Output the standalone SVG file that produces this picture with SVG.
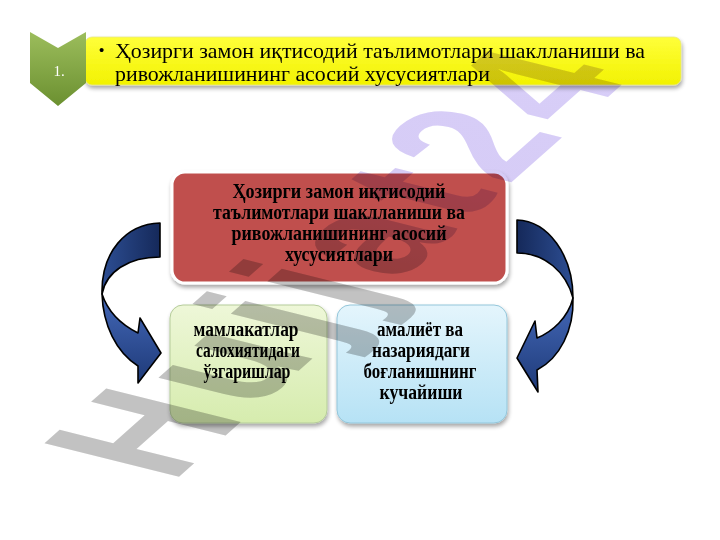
<svg xmlns="http://www.w3.org/2000/svg" width="720" height="540" viewBox="0 0 720 540">
<defs>
<style>
.hdr{font-family:"Liberation Serif","Times New Roman",serif;font-size:21px;fill:#000}
.bx{font-family:"Liberation Serif","Times New Roman",serif;font-weight:bold;font-size:20px;fill:#000;text-anchor:middle}
.arr{stroke:#000;stroke-width:1.6;stroke-linejoin:round}
</style>
<filter id="sh" x="-10%" y="-10%" width="125%" height="135%">
<feGaussianBlur in="SourceAlpha" stdDeviation="2"/>
<feOffset dx="1" dy="3" result="b"/>
<feComponentTransfer><feFuncA type="linear" slope="0.35"/></feComponentTransfer>
<feMerge><feMergeNode/><feMergeNode in="SourceGraphic"/></feMerge>
</filter>
<linearGradient id="gChev" x1="0" y1="0" x2="0" y2="1">
<stop offset="0" stop-color="#9cbd5c"/><stop offset="1" stop-color="#6b9030"/>
</linearGradient>
<linearGradient id="gYel" x1="0" y1="0" x2="0" y2="1">
<stop offset="0" stop-color="#ffff3a"/><stop offset="1" stop-color="#f2f200"/>
</linearGradient>
<linearGradient id="gGrn" x1="0" y1="0" x2="0" y2="1">
<stop offset="0" stop-color="#eef7d8"/><stop offset="1" stop-color="#d6ecae"/>
</linearGradient>
<linearGradient id="gBlu" x1="0" y1="0" x2="0" y2="1">
<stop offset="0" stop-color="#e4f5fc"/><stop offset="1" stop-color="#b6e2f5"/>
</linearGradient>
<linearGradient id="gArU" x1="0" y1="0" x2="1" y2="0">
<stop offset="0" stop-color="#2d4e93"/><stop offset="1" stop-color="#15295a"/>
</linearGradient>
<linearGradient id="gArUR" x1="0" y1="0" x2="1" y2="0">
<stop offset="0" stop-color="#15295a"/><stop offset="1" stop-color="#2d4e93"/>
</linearGradient>
<linearGradient id="gArL" x1="0" y1="0" x2="0" y2="1">
<stop offset="0" stop-color="#4468b8"/><stop offset="1" stop-color="#1e3a78"/>
</linearGradient>
<linearGradient id="gWm" gradientUnits="userSpaceOnUse" x1="0" y1="0" x2="450" y2="0">
<stop offset="0" stop-color="#c2c2c2"/><stop offset="0.45" stop-color="#c2c2c2"/>
<stop offset="0.68" stop-color="#d6ccf6"/><stop offset="1" stop-color="#d8cef8"/>
</linearGradient>
</defs>
<rect width="720" height="540" fill="#fff"/>

<g id="header">
<rect x="85" y="37" width="596" height="48" rx="7" fill="url(#gYel)" stroke="#e6e68a" stroke-width="0.8" filter="url(#sh)"/>
<text x="99" y="55" style="font-family:'Liberation Sans',Arial,sans-serif;font-size:15px">•</text>
<text class="hdr" x="115" y="58" textLength="530" lengthAdjust="spacingAndGlyphs">Ҳозирги замон иқтисодий таълимотлари шаклланиши ва</text>
<text class="hdr" x="115" y="81" textLength="375" lengthAdjust="spacingAndGlyphs">ривожланишининг асосий хусусиятлари</text>
</g>

<g id="chevron">
<polygon points="30,32 58,48 86,32 86,83 58,106 30,83" fill="url(#gChev)"/>
<text x="59" y="76" style="font-family:'Liberation Serif','Times New Roman',serif;font-size:15px;fill:#fff;text-anchor:middle">1.</text>
</g>

<g id="main">
<rect x="172" y="172" width="335" height="111" rx="13" fill="#c0504d" stroke="#fff" stroke-width="3" filter="url(#sh)"/>
<text class="bx" x="339" y="198" textLength="213" lengthAdjust="spacingAndGlyphs">Ҳозирги замон иқтисодий</text>
<text class="bx" x="339" y="219" textLength="252" lengthAdjust="spacingAndGlyphs">таълимотлари шаклланиши ва</text>
<text class="bx" x="339" y="240" textLength="215" lengthAdjust="spacingAndGlyphs">ривожланишининг асосий</text>
<text class="bx" x="339" y="261" textLength="108" lengthAdjust="spacingAndGlyphs">хусусиятлари</text>
</g>

<g id="left-box">
<rect x="170" y="305" width="157" height="118" rx="13" fill="url(#gGrn)" stroke="#b5cc9a" stroke-width="1" filter="url(#sh)"/>
<text class="bx" x="246" y="336" textLength="105" lengthAdjust="spacingAndGlyphs">мамлакатлар</text>
<text class="bx" x="248" y="357" textLength="104" lengthAdjust="spacingAndGlyphs">салохиятидаги</text>
<text class="bx" x="247" y="378" textLength="87" lengthAdjust="spacingAndGlyphs">ўзгаришлар</text>
</g>

<g id="right-box">
<rect x="337" y="305" width="170" height="118" rx="13" fill="url(#gBlu)" stroke="#93c6da" stroke-width="1" filter="url(#sh)"/>
<text class="bx" x="420" y="336" textLength="86" lengthAdjust="spacingAndGlyphs">амалиёт ва</text>
<text class="bx" x="421" y="357" textLength="98" lengthAdjust="spacingAndGlyphs">назариядаги</text>
<text class="bx" x="420" y="378" textLength="113" lengthAdjust="spacingAndGlyphs">боғланишнинг</text>
<text class="bx" x="421" y="399" textLength="83" lengthAdjust="spacingAndGlyphs">кучайиши</text>
</g>

<g id="connectors">
<g id="arrow-left">
<path class="arr" fill="url(#gArU)" d="M160,223 C126,224 101,252 102,294 C106,272 128,257 160,257 Z"/>
<path class="arr" fill="url(#gArL)" d="M102,294 C103,325 116,352 138,366 L138,383 L161,353 L140,318 L138,333 C122,325 108,312 102,294 Z"/>
</g>
<g id="arrow-right">
<path class="arr" fill="url(#gArUR)" d="M517,220 C548,221 573,255 573,298 C566,272 545,253 517,253 Z"/>
<path class="arr" fill="url(#gArL)" d="M573,298 C574,330 560,358 537,370 L538,392 L517,358 L535,321 L537,338 C552,332 568,318 573,298 Z"/>
</g>
</g>

<g id="watermark" style="mix-blend-mode:multiply">
<text transform="matrix(1.05,-0.93,1.955,0.489,172,483)" style="font-family:'Liberation Sans',Arial,sans-serif;font-weight:bold;font-size:100px;letter-spacing:7px" fill="url(#gWm)">Hujjat24</text>
</g>
</svg>
